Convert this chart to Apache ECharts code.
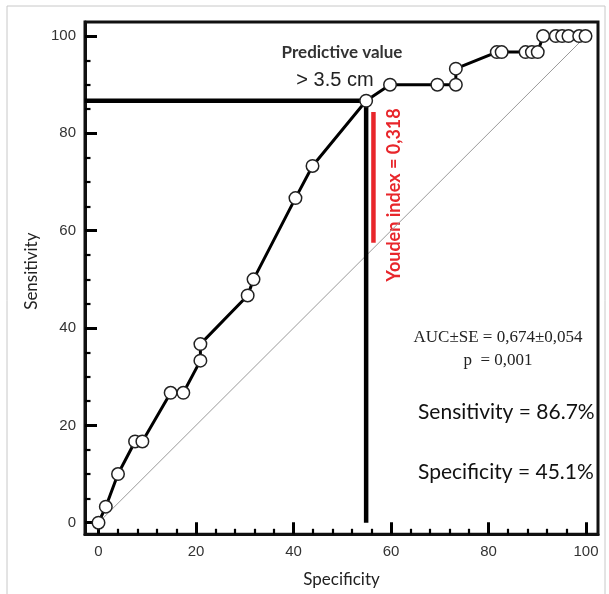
<!DOCTYPE html>
<html>
<head>
<meta charset="utf-8">
<script src="https://cdn.jsdelivr.net/npm/echarts@6/dist/echarts.min.js"></script>
<style>
  html, body { margin: 0; padding: 0; background: #fff; }
  #chart { width: 609px; height: 594px; }
</style>
</head>
<body>
<div id="chart"></div>
<script>
// ROC curve points (x = 100 - specificity, y = sensitivity)
const rocX = [0, 1.5, 4.0, 7.5, 9.0, 14.8, 17.4, 20.9, 20.9, 30.6, 31.8, 40.4, 43.9, 54.9, 59.8, 69.5, 73.3, 73.3, 81.7, 82.7, 87.6, 88.9, 90.1, 91.2, 93.8, 95.1, 96.4, 98.6, 99.9];
const rocY = [0, 3.3, 10, 16.7, 16.7, 26.7, 26.7, 33.3, 36.7, 46.7, 50, 66.7, 73.3, 86.7, 90, 90, 90, 93.3, 96.7, 96.7, 96.7, 96.7, 96.7, 100, 100, 100, 100, 100, 100];

// reference diagonal
const diagX = [0, 100];
const diagY = [0, 100];

// cut-off guides (> 3.5 cm)
const cutHX = [-2.8, 54.9];
const cutHY = [86.7, 86.7];
const cutVX = [54.9, 54.9];
const cutVY = [86.7, 0];

// youden index bar
const youdenX = [56.4, 56.4];
const youdenY = [84.4, 57.5];

// ticks
const majorTicks = [0, 20, 40, 60, 80, 100];
const minorTicksX = [4, 8, 12, 16, 24, 28, 32, 36, 44, 48, 52, 56, 64, 68, 72, 76, 84, 88, 92, 96];
const minorTicksY = [5, 10, 15, 25, 30, 35, 45, 50, 55, 65, 70, 75, 85, 90, 95];

const pairs = (xs, ys) => xs.map((x, i) => [x, ys[i]]);

const chart = echarts.init(document.getElementById('chart'));

// the frame sits a little outside 0..100
const xRange = { min: -2.77, max: 102.46 };
const yRange = { min: -2.38, max: 102.88 };

const labelStyle = { color: '#333', fontSize: 15, fontFamily: 'Liberation Sans' };
const nameStyle = { color: '#222', fontSize: 17, fontFamily: 'Lato' };

const option = {
  backgroundColor: '#fff',
  animation: false,
  grid: {
    left: 85, right: 11, top: 22, bottom: 59.7,
    show: true, borderColor: '#111', borderWidth: 3
  },
  xAxis: [
    {
      type: 'value',
      ...xRange,
      name: 'Specificity',
      nameLocation: 'middle',
      nameGap: 37,
      nameTextStyle: nameStyle,
      axisLine: { show: true, onZero: false, lineStyle: { color: '#111', width: 3 } },
      axisTick: { inside: true, length: 12, customValues: majorTicks, lineStyle: { color: '#000', width: 3 } },
      axisLabel: { margin: 10, customValues: majorTicks, ...labelStyle },
      splitLine: { show: false }
    },
    {
      type: 'value',
      ...xRange,
      position: 'bottom',
      axisLine: { show: false, onZero: false },
      axisTick: { inside: true, length: 5.5, customValues: minorTicksX, lineStyle: { color: '#000', width: 2.2 } },
      axisLabel: { show: false },
      splitLine: { show: false }
    }
  ],
  yAxis: [
    {
      type: 'value',
      ...yRange,
      name: 'Sensitivity',
      nameLocation: 'middle',
      nameGap: 44,
      nameTextStyle: { ...nameStyle, padding: [0, 0, 0, 14] },
      axisLine: { show: true, onZero: false, lineStyle: { color: '#111', width: 3 } },
      axisTick: { inside: true, length: 12, customValues: majorTicks, lineStyle: { color: '#000', width: 3 } },
      axisLabel: { margin: 9, customValues: majorTicks, ...labelStyle },
      splitLine: { show: false }
    },
    {
      type: 'value',
      ...yRange,
      position: 'left',
      axisLine: { show: false, onZero: false },
      axisTick: { inside: true, length: 5.5, customValues: minorTicksY, lineStyle: { color: '#000', width: 2.2 } },
      axisLabel: { show: false },
      splitLine: { show: false }
    }
  ],
  series: [
    {
      type: 'line',
      data: pairs(diagX, diagY),
      symbol: 'none',
      lineStyle: { color: '#9a9a9a', width: 1 },
      z: 1
    },
    {
      type: 'line',
      data: pairs(cutHX, cutHY),
      symbol: 'none',
      clip: false,
      lineStyle: { color: '#000', width: 4.5 },
      z: 2
    },
    {
      type: 'line',
      data: pairs(cutVX, cutVY),
      symbol: 'none',
      lineStyle: { color: '#000', width: 4.5 },
      z: 2
    },
    {
      type: 'line',
      data: pairs(youdenX, youdenY),
      symbol: 'none',
      lineStyle: { color: '#e8262b', width: 4.5 },
      z: 2
    },
    {
      type: 'line',
      data: pairs(rocX, rocY),
      symbol: 'circle',
      symbolSize: 12.5,
      clip: false,
      lineStyle: { color: '#000', width: 3 },
      itemStyle: { color: '#fff', borderColor: '#222', borderWidth: 1.5 },
      z: 3
    }
  ],
  graphic: [
    // light outer border of the figure
    { type: 'rect', shape: { x: 7, y: 6, width: 598, height: 600 }, style: { fill: 'none', stroke: '#c8c8c8', lineWidth: 1 }, silent: true },
    { type: 'text', x: 342, y: 53, style: { text: 'Predictive value', font: 'bold 17px Lato', fill: '#333', align: 'center', verticalAlign: 'middle' } },
    { type: 'text', x: 335, y: 80, style: { text: '> 3.5 cm', font: '20px "Liberation Sans"', fill: '#222', align: 'center', verticalAlign: 'middle' } },
    { type: 'text', x: 394, y: 195, rotation: Math.PI / 2, style: { text: 'Youden index = 0,318', font: 'bold 18px Lato', fill: '#e8262b', align: 'center', verticalAlign: 'middle' } },
    { type: 'text', x: 498, y: 338, style: { text: 'AUC±SE = 0,674±0,054', font: '17px "Liberation Serif"', fill: '#222', align: 'center', verticalAlign: 'middle' } },
    { type: 'text', x: 498, y: 361, style: { text: 'p  = 0,001', font: '17px "Liberation Serif"', fill: '#222', align: 'center', verticalAlign: 'middle' } },
    { type: 'text', x: 418, y: 412, style: { text: 'Sensitivity = 86.7%', font: '21px Lato', fill: '#111', verticalAlign: 'middle' } },
    { type: 'text', x: 418, y: 472, style: { text: 'Specificity = 45.1%', font: '21px Lato', fill: '#111', verticalAlign: 'middle' } }
  ]
};

chart.setOption(option);
</script>
</body>
</html>
